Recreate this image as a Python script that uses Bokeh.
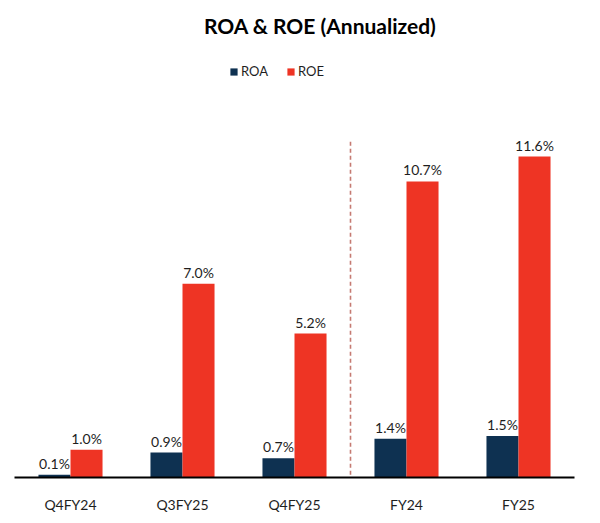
from bokeh.plotting import figure
from bokeh.models import ColumnDataSource, FactorRange, Label, Legend, LegendItem
from bokeh.transform import dodge
from bokeh.core.properties import value
from bokeh.embed import file_html
from bokeh.resources import INLINE

categories = ["Q4FY24", "Q3FY25", "Q4FY25", "FY24", "FY25"]
roa = [0.1, 0.9, 0.7, 1.4, 1.5]
roe = [1.0, 7.0, 5.2, 10.7, 11.6]
n_quarterly = 3

ROA_COLOR = "#0E3151"
ROE_COLOR = "#EE3424"
FONT = "Lato"

src = ColumnDataSource(dict(
    cat=categories, roa=roa, roe=roe,
    roa_lbl=[f"{v:.1f}%" for v in roa],
    roe_lbl=[f"{v:.1f}%" for v in roe],
))

p = figure(width=590, height=515, output_backend="svg", toolbar_location=None,
           x_range=FactorRange(*categories, range_padding=0, factor_padding=0),
           y_range=(0, 16.95), y_axis_location=None,
           min_border_left=14, min_border_right=16, min_border_top=8, min_border_bottom=32)
p.outline_line_color = None
p.xgrid.visible = False
p.ygrid.visible = False
p.background_fill_color = "white"
p.border_fill_color = "white"

bw = 0.286
off = 0.143
r1 = p.vbar(x=dodge("cat", -off, range=p.x_range), top="roa", width=bw, source=src,
            fill_color=ROA_COLOR, line_color=None)
r2 = p.vbar(x=dodge("cat", off, range=p.x_range), top="roe", width=bw, source=src,
            fill_color=ROE_COLOR, line_color=None)

for col, lbl, dx in (("roa", "roa_lbl", -off), ("roe", "roe_lbl", off)):
    p.text(x=dodge("cat", dx, range=p.x_range), y=col, text=lbl, source=src,
           text_align="center", text_baseline="bottom", y_offset=-3,
           text_font=value(FONT), text_font_size="14px", text_color="#1e1e1e")

# divider between quarterly and annual figures
p.segment(x0=[float(n_quarterly)], x1=[float(n_quarterly)], y0=[0.1], y1=[12.15],
          line_color="#C57A72", line_width=1.6, line_dash="4 3")

p.xaxis.axis_line_color = "black"
p.xaxis.axis_line_width = 2
p.xaxis.major_tick_line_color = None
p.xaxis.minor_tick_line_color = None
p.xaxis.major_label_standoff = 12
p.xaxis.major_label_text_font = FONT
p.xaxis.major_label_text_font_size = "14px"
p.xaxis.major_label_text_color = "#1e1e1e"

p.add_layout(Label(x=2.73, y=16.35, text="ROA & ROE (Annualized)", text_align="center",
                   text_baseline="middle", text_font=FONT, text_font_size="21px",
                   text_font_style="bold", text_color="black"))

legend = Legend(items=[LegendItem(label="ROA", renderers=[r1]),
                       LegendItem(label="ROE", renderers=[r2])],
                orientation="horizontal", location=(215, 396),
                glyph_width=9, glyph_height=9, label_standoff=3, spacing=18,
                padding=0, margin=0, border_line_alpha=0, background_fill_alpha=0,
                label_text_font=FONT, label_text_font_size="13px", label_text_color="#1e1e1e",
                label_height=20)
p.add_layout(legend, "center")

open("out.html", "w").write(file_html(p, INLINE))
